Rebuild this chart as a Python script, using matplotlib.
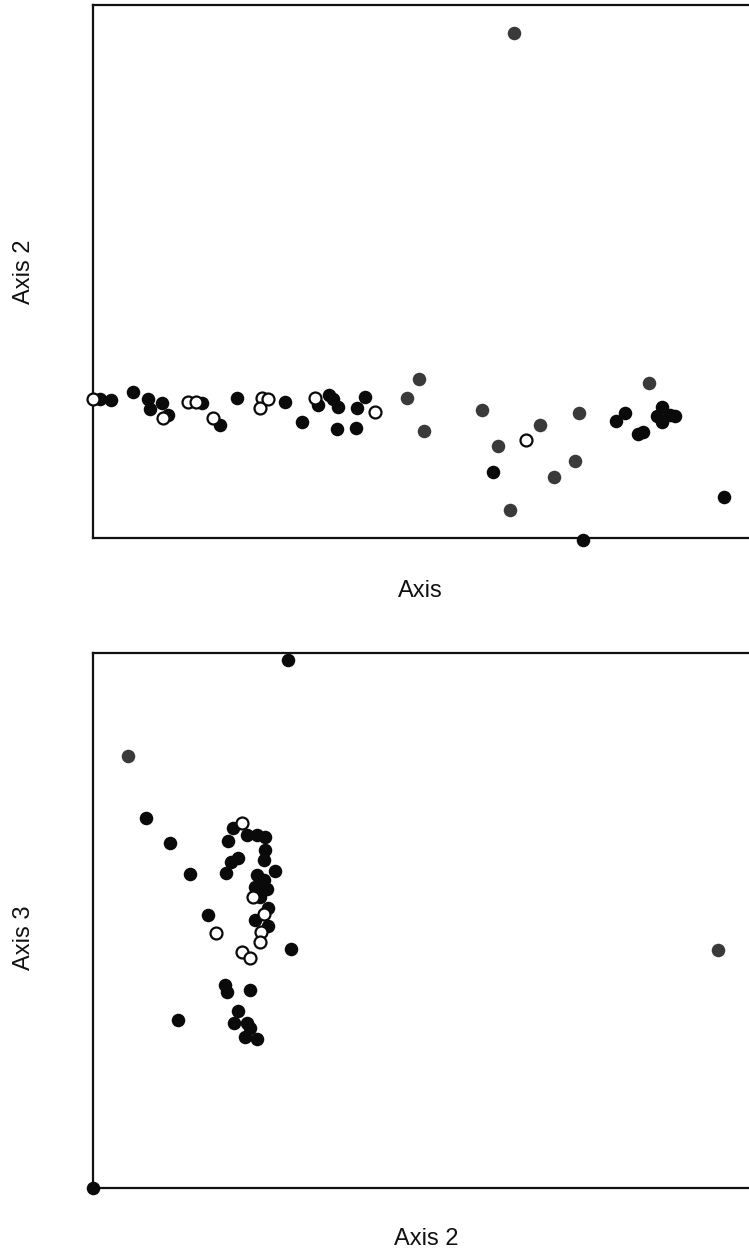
import matplotlib
matplotlib.use("Agg")
import matplotlib.pyplot as plt

# ---- Panel 1: Axis 1 (x) vs Axis 2 (y) ----
top_black_x = [0.11, 0.27, 0.61, 0.84, 0.87, 1.05, 1.15, 1.66, 1.94, 2.20, 2.93, 3.18, 3.43, 3.59,
               3.66, 3.74, 3.72, 4.02, 4.15, 4.01, 6.10, 7.47, 8.11, 7.97, 8.67, 8.59, 8.67, 8.80,
               8.87, 8.31, 8.39, 9.62]
top_black_y = [2.61, 2.58, 2.74, 2.60, 2.42, 2.53, 2.31, 2.54, 2.12, 2.62, 2.55, 2.18, 2.50, 2.68,
               2.60, 2.46, 2.04, 2.43, 2.65, 2.06, 1.24, -0.04, 2.35, 2.20, 2.46, 2.29, 2.18, 2.31,
               2.28, 1.96, 1.99, 0.76]
top_gray_x = [6.42, 4.97, 4.78, 5.05, 5.93, 6.18, 6.36, 6.81, 7.41, 7.34, 7.03, 8.48]
top_gray_y = [9.47, 2.98, 2.62, 2.01, 2.41, 1.73, 0.53, 2.12, 2.35, 1.45, 1.15, 2.91]
top_open_x = [0.00, 1.07, 1.45, 1.57, 1.83, 2.57, 2.55, 2.67, 3.38, 4.30, 6.60]
top_open_y = [2.60, 2.25, 2.56, 2.56, 2.26, 2.62, 2.43, 2.60, 2.62, 2.37, 1.84]

# ---- Panel 2: Axis 2 (x) vs Axis 3 (y) ----
bot_black_x = [2.97, 0.81, 1.18, 1.48, 1.76, 1.29, 3.02, 2.14, 2.06, 2.34, 2.50, 2.62, 2.62, 2.60,
               2.11, 2.21, 2.03, 2.77, 2.50, 2.60, 2.47, 2.65, 2.55, 2.67, 2.47, 2.67, 2.01, 2.04,
               2.39, 2.21, 2.15, 2.34, 2.39, 2.32, 2.50, 0.00]
bot_black_y = [9.87, 6.91, 6.44, 5.87, 5.10, 3.14, 4.47, 6.72, 6.49, 6.60, 6.60, 6.57, 6.32, 6.13,
               6.10, 6.16, 5.89, 5.93, 5.85, 5.76, 5.63, 5.58, 5.44, 5.23, 5.01, 4.90, 3.79, 3.67,
               3.70, 3.30, 3.08, 3.08, 2.99, 2.83, 2.78, 0.00]
bot_gray_x = [0.53, 9.53]
bot_gray_y = [8.07, 4.45]
bot_open_x = [2.27, 1.88, 2.44, 2.60, 2.56, 2.55, 2.27, 2.40]
bot_open_y = [6.83, 4.76, 5.44, 5.13, 4.79, 4.60, 4.42, 4.29]

W, H = 749, 1258
fig = plt.figure(figsize=(W / 100, H / 100), dpi=100)
fig.patch.set_facecolor("white")

BLACK = "#0a0a0a"
GRAY = "#3a3a3a"
MS = 95


def panel(rect, bx, by, gx, gy, ox, oy):
    ax = fig.add_axes(rect)
    ax.scatter(bx, by, s=MS, color=BLACK, linewidths=0, zorder=3, clip_on=False)
    ax.scatter(gx, gy, s=MS, color=GRAY, linewidths=0, zorder=3, clip_on=False)
    ax.scatter(ox, oy, s=MS * 0.78, facecolor="white", edgecolor=BLACK, linewidths=1.6,
               zorder=4, clip_on=False)
    ax.set_xlim(0, 10)
    ax.set_ylim(0, 10)
    ax.set_xticks([])
    ax.set_yticks([])
    for s in ["left", "bottom", "top"]:
        ax.spines[s].set_linewidth(1.6)
        ax.spines[s].set_color("#111111")
    ax.spines["right"].set_visible(False)
    return ax


panel([93 / W, 1 - 538 / H, 1 - 93 / W, 533 / H],
      top_black_x, top_black_y, top_gray_x, top_gray_y, top_open_x, top_open_y)
panel([93 / W, 1 - 1188 / H, 1 - 93 / W, 535 / H],
      bot_black_x, bot_black_y, bot_gray_x, bot_gray_y, bot_open_x, bot_open_y)

font = dict(family=["Liberation Sans", "DejaVu Sans"], fontsize=17, color="#111111")
fig.text(24 / W, 1 - 272 / H, "Axis 2", rotation=90, ha="center", va="center", **font)
fig.text(420 / W, 1 - 591 / H, "Axis", ha="center", va="center", **font)
fig.text(24 / W, 1 - 938 / H, "Axis 3", rotation=90, ha="center", va="center", **font)
fig.text(426 / W, 1 - 1239 / H, "Axis 2", ha="center", va="center", **font)

fig.savefig("out.png", dpi=100, facecolor="white")
